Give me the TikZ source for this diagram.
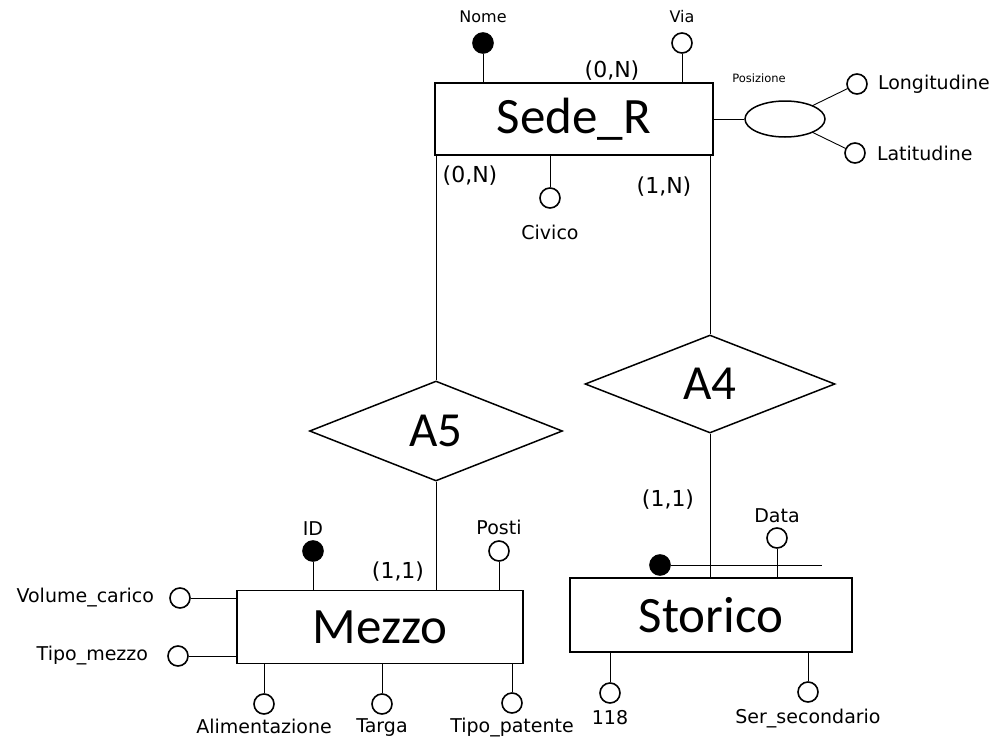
\documentclass[tikz,border=0pt]{standalone}
\usepackage{fontspec}
\setmainfont{DejaVu Sans}
\newfontfamily\carlito{Carlito}
\usetikzlibrary{shapes.geometric}

\begin{document}
\begin{tikzpicture}[x=1pt,y=-1pt,
  entity/.style={draw, line width=1.7pt, inner sep=0, font=\carlito\fontsize{51}{53}\selectfont},
  relation/.style={draw, diamond, aspect=2.5, line width=1.5pt, inner sep=0, font=\carlito\fontsize{49}{51}\selectfont},
  attr/.style={draw, circle, line width=1.6pt, minimum size=20, inner sep=0, fill=white},
  keyattr/.style={attr, fill=black},
  lbl/.style={font=\fontsize{19}{21}\selectfont, inner sep=1pt, label distance=6pt},
  smalllbl/.style={lbl, font=\fontsize{16}{18}\selectfont},
  card/.style={font=\fontsize{22}{24}\selectfont},
  link/.style={line width=0.9pt}]
\useasboundingbox (0,0) rectangle (998,744);

% entities and relationships
\node[entity, minimum width=278, minimum height=72] (sede) at (574,119) {Sede\_R};
\node[entity, minimum width=286, minimum height=73] (mezzo) at (380,627) {Mezzo};
\node[entity, minimum width=282, minimum height=74] (storico) at (711,615) {Storico};
\node[relation, minimum width=253, minimum height=100] (a5) at (436,431) {A5};
\node[relation, minimum width=250, minimum height=98] (a4) at (710,384) {A4};

\draw[link] (a5.north) -- (a5.north |- sede.south);
\draw[link] (a4.north) -- (a4.north |- sede.south);
\draw[link] (a5.south) -- (a5.south |- mezzo.north);
\draw[link] (a4.south) -- (a4.south |- storico.north);

\node[card] (c1) at (612,71) {(0,N)};
\node[card] (c2) at (470,176) {(0,N)};
\node[card] (c3) at (664,187) {(1,N)};
\node[card] (c4) at (668,500) {(1,1)};
\node[card] (c5) at (398,572) {(1,1)};

% Sede_R attributes
\node[keyattr, label={[smalllbl, label distance=8pt]above:Nome}] (nome) at (483,43) {};
\node[attr, label={[smalllbl, label distance=8pt]above:Via}] (via) at (682,43) {};
\node[attr, label={[lbl, label distance=15pt]below:Civico}] (civico) at (550,198) {};
\draw[link] (nome) -- (nome |- sede.north);
\draw[link] (via) -- (via |- sede.north);
\draw[link] (civico) -- (civico |- sede.south);

\node[draw, ellipse, line width=1.5pt, minimum width=80, minimum height=36] (pos) at (785,119) {};
\node[font=\fontsize{11.5}{13}\selectfont] (poslbl) at (759,78) {Posizione};
\node[attr, label={[lbl, label distance=9pt]right:Longitudine}] (long) at (857,84) {};
\node[attr, label={[lbl, label distance=10pt]right:Latitudine}] (lat) at (855,153) {};
\draw[link] (sede.east) -- (pos.west);
\draw[link] (pos) -- (long);
\draw[link] (pos) -- (lat);

% Storico attributes
\node[keyattr] (idsto) at (660,565) {};
\coordinate (idend) at (822,565);
\draw[link] (idsto) -- (idend);
\node[attr, label={[lbl, label distance=3pt]above:Data}] (data) at (777,538) {};
\node[attr, label={[lbl, label distance=5pt]below:118}] (n118) at (610,693) {};
\node[attr, label={[lbl, label distance=5pt]below:Ser\_secondario}] (ser) at (808,692) {};
\draw[link] (data) -- (data |- storico.north);
\draw[link] (n118) -- (n118 |- storico.south);
\draw[link] (ser) -- (ser |- storico.south);

% Mezzo attributes
\node[keyattr, label={[lbl, label distance=4pt]above:ID}] (id) at (313,551) {};
\node[attr, label={[lbl, label distance=4pt]above:Posti}] (posti) at (499,551) {};
\node[attr, label={[lbl, label distance=14pt]left:Volume\_carico}] (vol) at (180,598) {};
\node[attr, label={[lbl, label distance=18pt]left:Tipo\_mezzo}] (tipom) at (178,656) {};
\node[attr, label={[lbl, label distance=3pt]below:Alimentazione}] (alim) at (264,704) {};
\node[attr, label={[lbl, label distance=3pt]below:Targa}] (targa) at (382,704) {};
\node[attr, label={[lbl, label distance=3pt]below:Tipo\_patente}] (tipop) at (512,703) {};
\draw[link] (id) -- (id |- mezzo.north);
\draw[link] (posti) -- (posti |- mezzo.north);
\draw[link] (vol) -- (vol -| mezzo.west);
\draw[link] (tipom) -- (tipom -| mezzo.west);
\draw[link] (alim) -- (alim |- mezzo.south);
\draw[link] (targa) -- (targa |- mezzo.south);
\draw[link] (tipop) -- (tipop |- mezzo.south);
\end{tikzpicture}
\end{document}
